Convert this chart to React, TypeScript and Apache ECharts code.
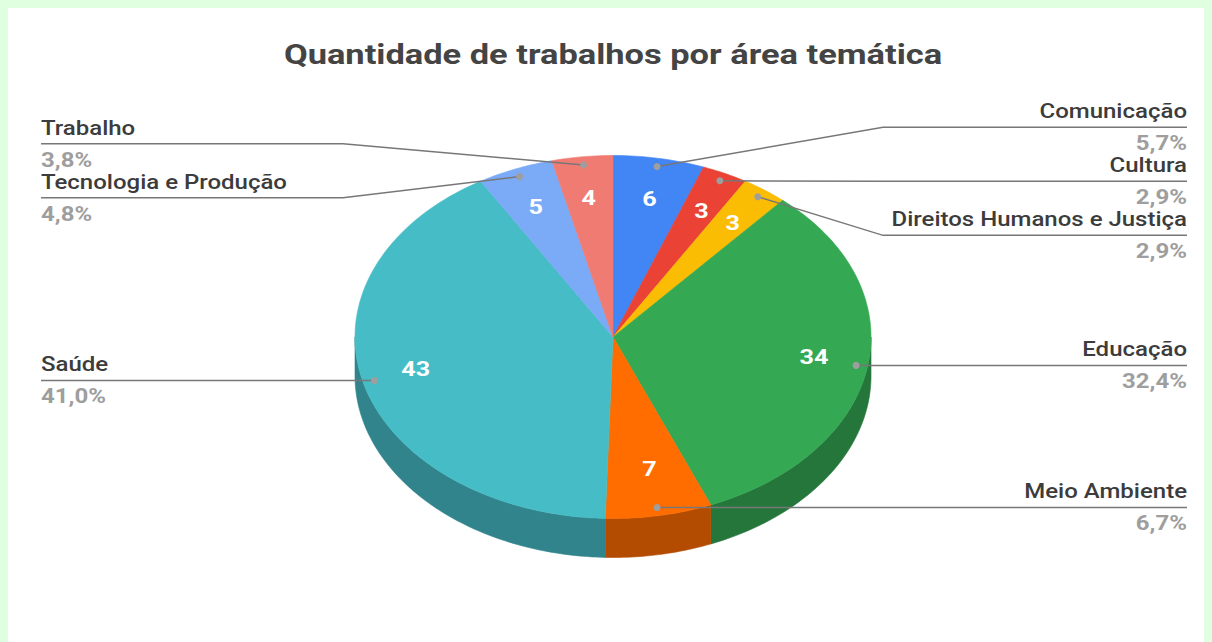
import React, { useEffect, useRef } from "react";
import * as echarts from "echarts";

const titleText = "Quantidade de trabalhos por área temática";
const categories = [
  "Comunicação",
  "Cultura",
  "Direitos Humanos e Justiça",
  "Educação",
  "Meio Ambiente",
  "Saúde",
  "Tecnologia e Produção",
  "Trabalho",
];
const values = [6, 3, 3, 34, 7, 43, 5, 4];
const colors = ["#4285F4", "#EA4335", "#FBBC04", "#34A853", "#FF6D01", "#46BDC6", "#7BAAF7", "#F07B72"];

// layout (chart-local pixels)
const CX = 605;
const CY = 329;
const RX = 258;
const RY = 181.5;
const DEPTH = 39;
const DOT_F = 0.955;
const VAL_FX = 0.79;
const VAL_FY = 0.755;
const VAL_DY = -3;
const ELBOW = 12;
const LEFT_X = 33;
const RIGHT_X = 1179;
const MIN_GAP = 54;
const TEXT_SX = 1.2;
const TITLE_SX = 1.23;
const FONT = "Roboto, 'Noto Sans', sans-serif";

function darken(hex: string, f: number) {
  const n = parseInt(hex.slice(1), 16);
  const r = Math.round(((n >> 16) & 255) * f);
  const g = Math.round(((n >> 8) & 255) * f);
  const b = Math.round((n & 255) * f);
  return `rgb(${r},${g},${b})`;
}

function pt(deg: number, f: number, dy = 0, fy = f): number[] {
  const a = (deg * Math.PI) / 180;
  return [CX + f * RX * Math.sin(a), CY - fy * RY * Math.cos(a) + dy];
}

function arc(a: number, b: number, f: number, dy = 0): number[][] {
  const pts: number[][] = [];
  const steps = Math.max(2, Math.ceil(Math.abs(b - a) / 1));
  for (let k = 0; k <= steps; k++) pts.push(pt(a + ((b - a) * k) / steps, f, dy));
  return pts;
}

function computeLayout() {
  const total = values.reduce((s, v) => s + v, 0);
  const starts: number[] = [];
  const ends: number[] = [];
  let acc = 0;
  values.forEach((v) => {
    starts.push((acc / total) * 360);
    acc += v;
    ends.push((acc / total) * 360);
  });
  const mids = starts.map((s, i) => (s + ends[i]) / 2);
  const dots = mids.map((m) => pt(m, DOT_F));
  const labelY: number[] = new Array(values.length).fill(0);
  const sides = [
    values.map((_, i) => i).filter((i) => dots[i][0] >= CX),
    values.map((_, i) => i).filter((i) => dots[i][0] < CX),
  ];
  sides.forEach((idxs) => {
    const items = idxs.map((i) => ({ i, y: dots[i][1] })).sort((a, b) => a.y - b.y);
    let clusters = items.map((it) => ({ members: [it], center: it.y }));
    let changed = true;
    while (changed) {
      changed = false;
      for (let k = 0; k < clusters.length - 1; k++) {
        const a = clusters[k];
        const b = clusters[k + 1];
        const aBottom = a.center + ((a.members.length - 1) * MIN_GAP) / 2;
        const bTop = b.center - ((b.members.length - 1) * MIN_GAP) / 2;
        if (bTop - aBottom < MIN_GAP) {
          const members = a.members.concat(b.members);
          const center = members.reduce((s, m) => s + m.y, 0) / members.length;
          clusters.splice(k, 2, { members, center });
          changed = true;
          break;
        }
      }
    }
    clusters.forEach((c) => {
      const n = c.members.length;
      c.members.forEach((m, j) => {
        labelY[m.i] = c.center + (j - (n - 1) / 2) * MIN_GAP;
      });
    });
  });
  return { total, starts, ends, mids, dots, labelY };
}

function textEl(text: string, x: number, y: number, style: any, z2: number) {
  return {
    type: "text",
    x,
    y,
    scaleX: TEXT_SX,
    z2,
    style: { text, x: 0, y: 0, fontFamily: FONT, verticalAlign: "middle", ...style },
  };
}

export default function App() {
  const ref = useRef<HTMLDivElement>(null);
  useEffect(() => {
    document.body.style.background = "#e0ffe0";
    document.body.style.overflow = "hidden";
    if (!ref.current) return;
    const chart = echarts.init(ref.current, undefined, { renderer: "svg" });
    const L = computeLayout();
    const renderItem = (params: any, api: any) => {
      const i = params.dataIndex;
      const v = api.value(0);
      const s = L.starts[i];
      const e = L.ends[i];
      const children: any[] = [];
      const a = Math.max(s, 90);
      const b = Math.min(e, 270);
      if (b > a) {
        const top = arc(a, b, 1);
        const bottom = arc(b, a, 1, DEPTH);
        children.push({
          type: "polygon",
          z2: 1,
          shape: { points: top.concat(bottom) },
          style: { fill: darken(colors[i], 0.7), stroke: darken(colors[i], 0.7), lineWidth: 0.6 },
        });
      }
      children.push({
        type: "polygon",
        z2: 2,
        shape: { points: [[CX, CY]].concat(arc(s, e, 1)) },
        style: { fill: colors[i], stroke: colors[i], lineWidth: 0.6 },
      });
      const vp = pt(L.mids[i], VAL_FX, VAL_DY, VAL_FY);
      children.push(
        textEl(String(v), vp[0], vp[1], { fill: "#ffffff", fontSize: 21, fontWeight: "bold", align: "center" }, 20)
      );
      const d = L.dots[i];
      const right = d[0] >= CX;
      const ly = L.labelY[i];
      const ex = right ? CX + RX + ELBOW : CX - RX - ELBOW;
      const tx = right ? RIGHT_X : LEFT_X;
      children.push({
        type: "polyline",
        z2: 10,
        shape: { points: [d, [ex, ly], [tx, ly]] },
        style: { stroke: "#777777", lineWidth: 1.5, fill: null },
      });
      children.push({
        type: "circle",
        z2: 11,
        shape: { cx: d[0], cy: d[1], r: 3.5 },
        style: { fill: "#9e9e9e" },
      });
      const align = right ? "right" : "left";
      children.push(
        textEl(categories[i], tx, ly - 16, { fill: "#3c3c3c", fontSize: 20, fontWeight: 500, align }, 12)
      );
      const pct = ((v / L.total) * 100).toFixed(1).replace(".", ",") + "%";
      children.push(textEl(pct, tx, ly + 16, { fill: "#9e9e9e", fontSize: 20, fontWeight: "bold", align }, 12));
      return { type: "group", children };
    };
    chart.setOption({
      animation: false,
      backgroundColor: "#ffffff",
      graphic: [
        {
          type: "text",
          x: CX,
          y: 47,
          scaleX: TITLE_SX,
          style: {
            text: titleText,
            x: 0,
            y: 0,
            align: "center",
            verticalAlign: "middle",
            fontSize: 28,
            fontWeight: "bold",
            fill: "#444444",
            fontFamily: FONT,
          },
        },
      ],
      series: [
        {
          type: "custom",
          coordinateSystem: "none",
          silent: true,
          renderItem,
          data: values.map((v, i) => ({ name: categories[i], value: [v] })),
        },
      ],
    });
    return () => chart.dispose();
  }, []);
  return <div ref={ref} style={{ width: 1212, height: 642, background: "#ffffff" }} />;
}
